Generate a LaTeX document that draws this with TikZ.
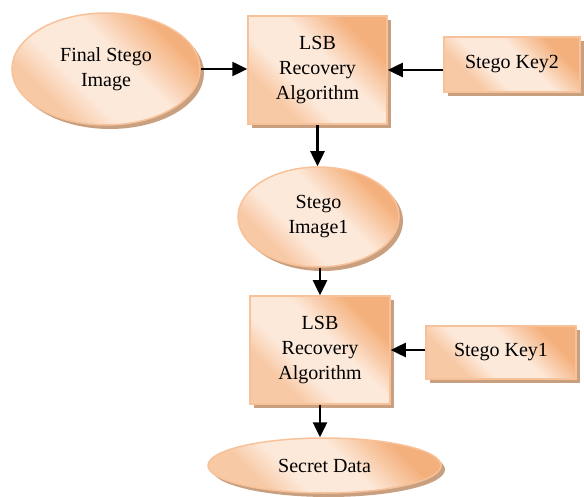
\documentclass[tikz,border=0pt]{standalone}
\usepackage{fontspec}
\setmainfont{Liberation Serif}
\usetikzlibrary{shapes.geometric,shadows,arrows.meta}
\definecolor{pdark}{HTML}{F4B07C}
\definecolor{plight}{HTML}{FDE9DA}
\definecolor{pmid}{HTML}{F8C9A5}
\definecolor{pborder}{HTML}{F7C29A}
\definecolor{pshadow}{HTML}{C9A07F}
\pgfdeclareverticalshading{peachshade}{100bp}{color(0bp)=(pmid); color(30bp)=(pmid); color(40bp)=(plight); color(56bp)=(plight); color(72bp)=(pdark); color(100bp)=(pdark)}
\tikzset{
  blob/.style={draw=pborder, line width=1.5pt,
    shading=peachshade, shading angle=-45,
    drop shadow={shadow xshift=4pt, shadow yshift=-4pt, fill=pshadow, opacity=1},
    align=center, font=\fontsize{20}{25}\selectfont, inner sep=0pt},
  boxn/.style={blob, rectangle},
  ovaln/.style={blob, ellipse},
  arr/.style={-{Triangle[length=15pt,width=14pt]}, line width=2.5pt, black}
}
\begin{document}
\begin{tikzpicture}[x=1pt,y=1pt]
\useasboundingbox (0,0) rectangle (584,-497);
\node[ovaln, minimum width=188pt, minimum height=112pt] (fin) at (106,-69) {Final Stego\\Image};
\node[boxn, minimum width=139pt, minimum height=108pt] (lsb1) at (317.5,-70) {LSB\\Recovery\\Algorithm};
\node[boxn, minimum width=136pt, minimum height=55pt] (key2) at (512,-64.5) {Stego Key2};
\node[ovaln, minimum width=161pt, minimum height=100pt] (img1) at (318.5,-217) {Stego\\Image1};
\node[boxn, minimum width=140pt, minimum height=108pt] (lsb2) at (320,-350) {LSB\\Recovery\\Algorithm};
\node[boxn, minimum width=150pt, minimum height=53pt] (key1) at (501,-352.5) {Stego Key1};
\node[ovaln, minimum width=233pt, minimum height=55pt] (sec) at (324.5,-465.5) {Secret Data};
\draw[arr] (fin.east) -- (fin.east -| lsb1.west);
\draw[arr] (key2.west |- lsb1.east) -- (lsb1.east);
\draw[arr] (lsb1.south) -- (lsb1.south |- img1.north);
\draw[arr] (lsb2.north |- img1.south) -- (lsb2.north);
\draw[arr] (key1.west |- lsb2.east) -- (lsb2.east);
\draw[arr] (lsb2.south) -- (lsb2.south |- sec.north);
\end{tikzpicture}
\end{document}
